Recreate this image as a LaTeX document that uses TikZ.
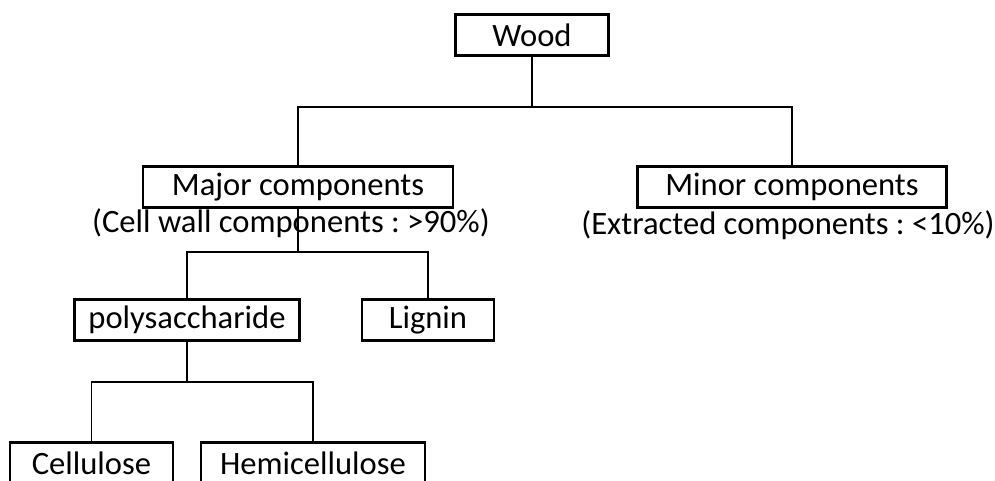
\documentclass[tikz,border=0pt]{standalone}
\usepackage{fontspec}
\setmainfont{Carlito}
\usepackage{tikz}
\frenchspacing

\begin{document}
\begin{tikzpicture}[x=1pt,y=-1pt,line cap=rect,
  box/.style={draw,line width=2.2pt,minimum height=41pt,inner sep=0pt,font=\fontsize{32.6}{38}\selectfont},
  sub/.style={inner sep=0pt,font=\fontsize{32.6}{38}\selectfont},
  conn/.style={line width=1.1pt}]
\useasboundingbox (0,0) rectangle (995,480);
\node[box,minimum width=153pt] (wood) at (532,35) {Wood};
\node[box,minimum width=310pt] (major) at (298,187) {Major components};
\node[sub] (majorsub) at (291,223) {(Cell wall components : >90\%)};
\node[box,minimum width=309pt] (minor) at (792,187) {Minor components};
\node[sub] (minorsub) at (788,225) {(Extracted components : <10\%)};
\node[box,minimum width=225pt] (poly) at (187,320) {polysaccharide};
\node[box,minimum width=132pt] (lignin) at (428,320) {Lignin};
\node[box,minimum width=163pt] (cell) at (91.5,463) {Cellulose};
\node[box,minimum width=224pt] (hemi) at (313,463) {Hemicellulose};
% branch points
\coordinate (jwood) at (532,107);
\coordinate (jmajor) at (298,252);
\coordinate (jpoly) at (187,382);
\draw[conn] (wood.south) -- (jwood);
\draw[conn] (major.north) |- (jwood) -| (minor.north);
\draw[conn] (major.south) -- (jmajor);
\draw[conn] (poly.north) |- (jmajor) -| (lignin.north);
\draw[conn] (poly.south) -- (jpoly);
\draw[conn] (cell.north) |- (jpoly) -| (hemi.north);
\end{tikzpicture}
\end{document}
